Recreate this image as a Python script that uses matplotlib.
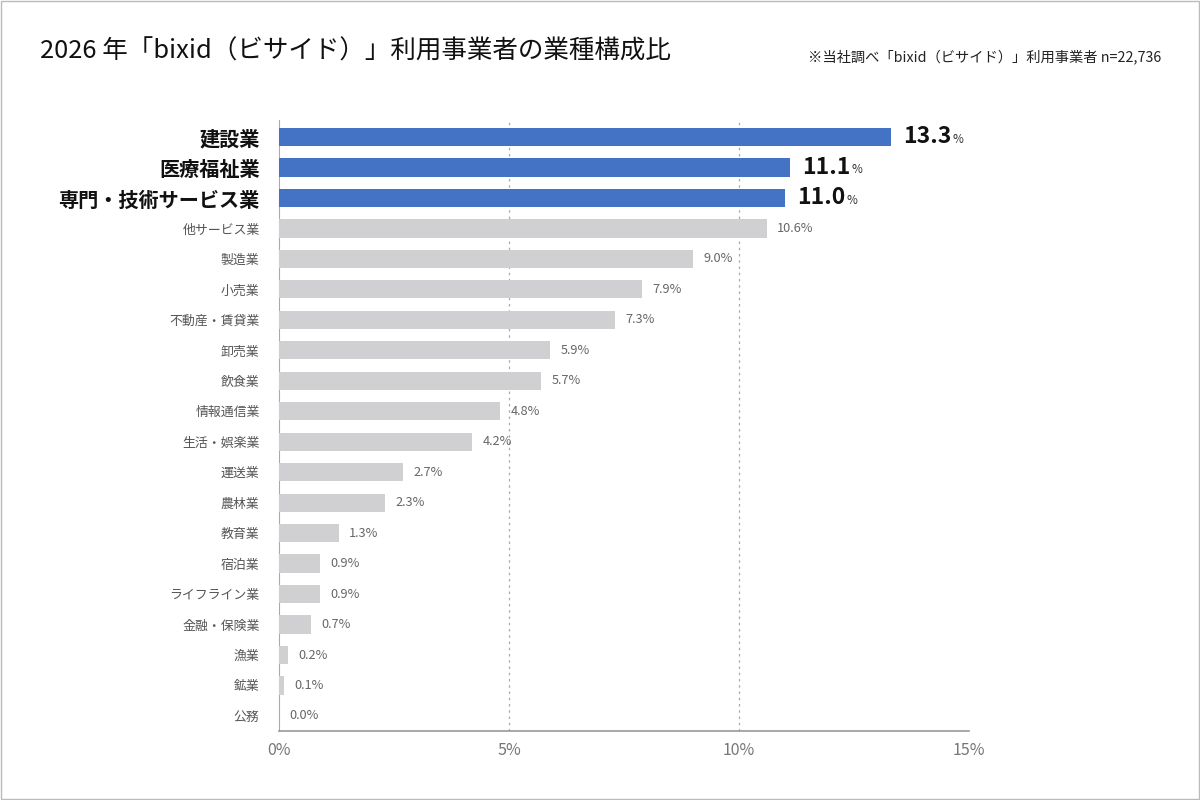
import matplotlib
matplotlib.use("Agg")
import matplotlib.pyplot as plt
from matplotlib.patches import Rectangle

plt.rcParams['font.family'] = ['Noto Sans CJK JP', 'DejaVu Sans']

industries = ['建設業', '医療福祉業', '専門・技術サービス業', '他サービス業', '製造業', '小売業',
              '不動産・賃貸業', '卸売業', '飲食業', '情報通信業', '生活・娯楽業', '運送業',
              '農林業', '教育業', '宿泊業', 'ライフライン業', '金融・保険業', '漁業', '鉱業', '公務']
shares = [13.3, 11.1, 11.0, 10.6, 9.0, 7.9, 7.3, 5.9, 5.7, 4.8, 4.2, 2.7,
          2.3, 1.3, 0.9, 0.9, 0.7, 0.2, 0.1, 0.0]
n_top = 3
x_ticks = [0, 5, 10, 15]

blue = '#4472c4'
gray_bar = '#d0cfd2'
gray_txt = '#666666'

fig = plt.figure(figsize=(12, 8), dpi=100)
ax = fig.add_axes([0.2325, 0.086, 0.575, 0.76375])

y = list(range(len(industries)))
colors = [blue if i < n_top else gray_bar for i in y]
ax.barh(y, shares, height=0.6, color=colors, zorder=3)
ax.set_ylim(len(industries) - 0.5, -0.55)
ax.set_xlim(0, 15)

ax.set_xticks(x_ticks)
ax.set_xticklabels([f'{t}%' for t in x_ticks], fontsize=11.5, color='#777777')
ax.set_yticks(y)
ax.set_yticklabels(industries)
ax.tick_params(axis='both', length=0)
ax.tick_params(axis='y', pad=14)
ax.tick_params(axis='x', pad=8)
for i, lab in enumerate(ax.get_yticklabels()):
    if i < n_top:
        lab.set_fontsize(14.5)
        lab.set_fontweight('bold')
        lab.set_color('#111111')
    else:
        lab.set_fontsize(9.3)
        lab.set_color('#555555')

for s in ['top', 'right']:
    ax.spines[s].set_visible(False)
ax.spines['left'].set_color('#aaaaaa')
ax.spines['bottom'].set_color('#999999')
ax.spines['bottom'].set_linewidth(1.2)

for xv in [5, 10]:
    ax.axvline(xv, color='#aaaaaa', linestyle=(0, (2, 3)), linewidth=0.9, zorder=1)

for i, v in enumerate(shares):
    if i < n_top:
        t = ax.annotate(f'{v:.1f}', xy=(v, i), xytext=(9, 0), textcoords='offset points',
                        va='center', ha='left', fontsize=16.5, fontweight='bold', color='#111111')
        ax.annotate('%', xy=(1, 0.12), xycoords=t, xytext=(0.5, 0), textcoords='offset points',
                    va='bottom', ha='left', fontsize=8.5, color='#333333')
    else:
        ax.annotate(f'{v:.1f}%', xy=(v, i), xytext=(7.5, 0), textcoords='offset points',
                    va='center', ha='left', fontsize=9.2, color=gray_txt)

fig.text(0.033, 0.935, '2026 年「bixid（ビサイド）」利用事業者の業種構成比',
         fontsize=18.4, color='#111111', va='center', ha='left')
fig.text(0.968, 0.929, '※当社調べ「bixid（ビサイド）」利用事業者 n=22,736',
         fontsize=10.3, color='#222222', va='center', ha='right')

fig.patches.append(Rectangle((0.001, 0.001), 0.998, 0.998, transform=fig.transFigure,
                             fill=False, edgecolor='#bbbbbb', linewidth=1))

fig.savefig('out.png', dpi=100, facecolor='white')
